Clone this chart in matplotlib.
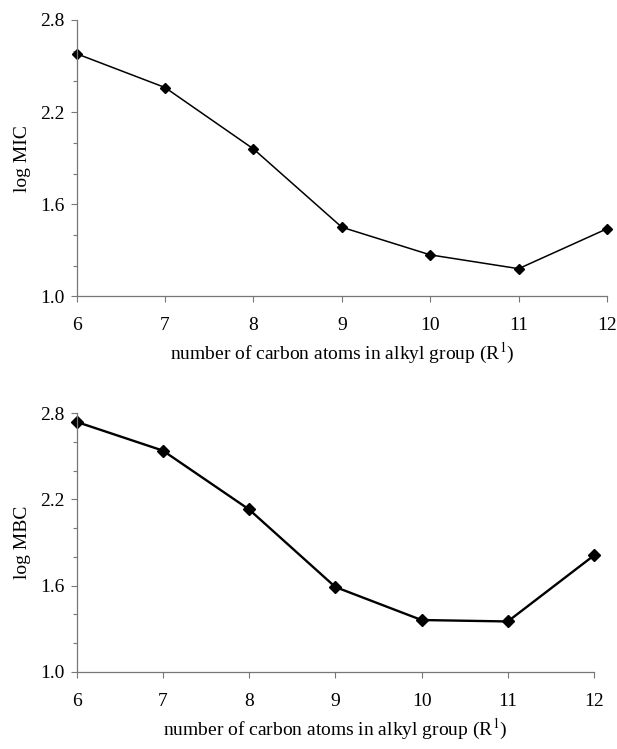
import matplotlib
matplotlib.use("Agg")
import matplotlib.pyplot as plt
from matplotlib.ticker import FixedLocator

carbons = [6, 7, 8, 9, 10, 11, 12]
logMIC = [2.58, 2.36, 1.96, 1.45, 1.27, 1.18, 1.44]
logMBC = [2.74, 2.54, 2.13, 1.59, 1.36, 1.35, 1.81]
yMajor = [1.0, 1.6, 2.2, 2.8]
yMinor = [1.2, 1.4, 1.8, 2.0, 2.4, 2.6]

plt.rcParams['font.family'] = ['Liberation Serif', 'DejaVu Serif']
plt.rcParams['mathtext.fontset'] = 'stix'

fig = plt.figure(figsize=(6.17, 7.49), dpi=100)
axTop = fig.add_axes([0.1243, 0.6044, 0.8595, 0.3689])
axBot = fig.add_axes([0.1243, 0.1032, 0.8384, 0.3450])

xlabel = r'number of carbon atoms in alkyl group (R$^{1}$)'


def style(ax, ylabel):
    ax.set_xlim(6, 12)
    ax.set_ylim(1.0, 2.8)
    ax.set_xticks(carbons)
    ax.yaxis.set_major_locator(FixedLocator(yMajor))
    ax.yaxis.set_minor_locator(FixedLocator(yMinor))
    ax.yaxis.set_major_formatter(plt.FormatStrFormatter('%.1f'))
    for s in ['top', 'right']:
        ax.spines[s].set_visible(False)
    for s in ['left', 'bottom']:
        ax.spines[s].set_color('#777777')
        ax.spines[s].set_linewidth(0.9)
    ax.tick_params(which='both', direction='out', color='#777777',
                   width=0.8, labelsize=14)
    ax.tick_params(which='major', length=4)
    ax.tick_params(which='minor', length=3)
    ax.tick_params(axis='x', pad=11)
    ax.tick_params(axis='y', pad=5)
    ax.set_ylabel(ylabel, fontsize=14, labelpad=6)
    ax.set_xlabel(xlabel, fontsize=14, labelpad=5)


axTop.plot(carbons, logMIC, color='black', lw=1.1, marker='D', ms=5,
           clip_on=False)
style(axTop, 'log MIC')

axBot.plot(carbons, logMBC, color='black', lw=1.7, marker='D', ms=6,
           clip_on=False)
style(axBot, 'log MBC')

fig.savefig('out.png', dpi=100)
